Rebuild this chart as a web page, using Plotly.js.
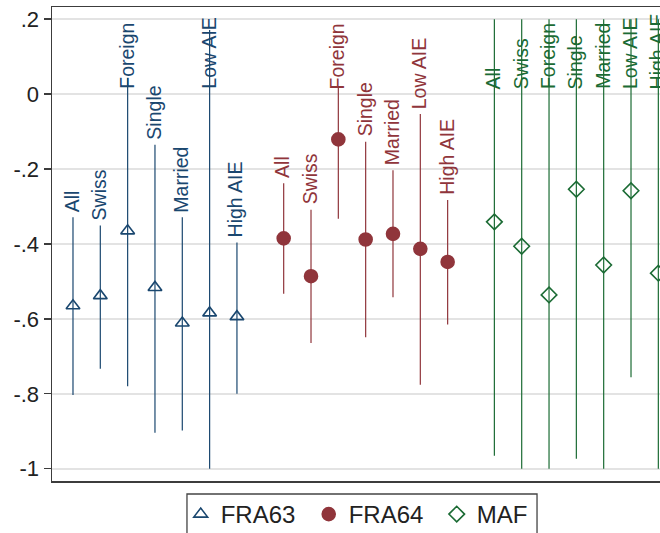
<!DOCTYPE html>
<html>
<head>
<meta charset="utf-8">
<script src="https://cdn.plot.ly/plotly-3.0.1.min.js"></script>
<style>
html, body { margin: 0; padding: 0; background: #ffffff; overflow: hidden; }
#chart { width: 700px; height: 533px; }
</style>
</head>
<body>
<div id="chart"></div>
<script>
// ---- data ----
var categories = ['All', 'Swiss', 'Foreign', 'Single', 'Married', 'Low AIE', 'High AIE'];
var seriesNames = ['FRA63', 'FRA64', 'MAF'];

var fra63Est = [-0.565, -0.538, -0.365, -0.516, -0.611, -0.584, -0.594];
var fra63Lo  = [-0.803, -0.733, -0.780, -0.904, -0.898, -1.000, -0.800];
var fra63Hi  = [-0.329, -0.351,  0.043, -0.135, -0.329,  0.171, -0.396];

var fra64Est = [-0.385, -0.486, -0.121, -0.388, -0.373, -0.413, -0.448];
var fra64Lo  = [-0.533, -0.664, -0.333, -0.649, -0.542, -0.776, -0.615];
var fra64Hi  = [-0.238, -0.309,  0.016, -0.127, -0.203, -0.053, -0.283];

var mafEst = [-0.341, -0.406, -0.536, -0.254, -0.456, -0.258, -0.478];
var mafLo  = [-0.965, -1.000, -1.000, -0.973, -1.000, -0.756, -1.000];
var mafHi  = [ 0.200,  0.200,  0.200,  0.200,  0.200,  0.200,  0.200];

var yTickVals = [0.2, 0, -0.2, -0.4, -0.6, -0.8, -1];
var yTickText = ['.2', '0', '-.2', '-.4', '-.6', '-.8', '-1'];

// ---- styling ----
var FONT = '"Liberation Sans", Arial, Helvetica, sans-serif';
var colors = ['#1a476f', '#90353b', '#1b6b34'];
var symbols = ['triangle-up-open', 'circle', 'diamond-open'];
var sizes = [12, 13, 12];
var groupOffset = [0, 7.71, 15.42];

var est = [fra63Est, fra64Est, mafEst];
var lo = [fra63Lo, fra64Lo, mafLo];
var hi = [fra63Hi, fra64Hi, mafHi];

var traces = [];
var annotations = [];
for (var g = 0; g < 3; g++) {
  var xs = categories.map(function (c, k) { return groupOffset[g] + k; });
  traces.push({
    type: 'scatter',
    mode: 'markers',
    name: seriesNames[g],
    x: xs,
    y: est[g],
    text: categories,
    marker: {
      symbol: symbols[g],
      size: sizes[g],
      color: colors[g],
      line: { color: colors[g], width: 1.6 }
    },
    error_y: {
      type: 'data',
      symmetric: false,
      array: est[g].map(function (v, i) { return hi[g][i] - v; }),
      arrayminus: est[g].map(function (v, i) { return v - lo[g][i]; }),
      width: 0,
      thickness: 1.2,
      color: colors[g]
    },
    cliponaxis: true
  });
  categories.forEach(function (c, k) {
    annotations.push({
      x: xs[k],
      y: Math.min(hi[g][k], 0),
      xref: 'x', yref: 'y',
      text: c,
      showarrow: false,
      textangle: -90,
      xanchor: 'center',
      yanchor: 'bottom',
      xshift: -1,
      yshift: 3,
      font: { family: FONT, size: 19.5, color: colors[g] }
    });
  });
}

var layout = {
  width: 700,
  height: 533,
  margin: { l: 52, r: 28, t: 7, b: 52, autoexpand: false },
  paper_bgcolor: '#ffffff',
  plot_bgcolor: '#ffffff',
  showlegend: true,
  font: { family: FONT, color: '#222222' },
  xaxis: {
    range: [-0.768, 21.92],
    showgrid: false,
    zeroline: false,
    showticklabels: false,
    ticks: '',
    showline: true,
    mirror: true,
    linecolor: '#3c3c3c',
    linewidth: 1.5
  },
  yaxis: {
    range: [-1.0326, 0.2324],
    tickmode: 'array',
    tickvals: yTickVals,
    ticktext: yTickText,
    ticks: 'outside',
    ticklen: 7,
    tickwidth: 1.3,
    tickcolor: '#3c3c3c',
    tickfont: { family: FONT, size: 22, color: '#222222' },
    showgrid: true,
    gridcolor: '#e3e3e3',
    gridwidth: 1.5,
    zeroline: false,
    showline: true,
    mirror: true,
    linecolor: '#3c3c3c',
    linewidth: 1.5
  },
  legend: {
    orientation: 'h',
    x: 0.2076,
    xanchor: 'left',
    y: -0.0232,
    yanchor: 'top',
    bgcolor: 'rgba(0,0,0,0)',
    borderwidth: 0,
    entrywidth: 83,
    font: { family: FONT, size: 24, color: '#222222' },
    itemclick: false
  },
  shapes: [{
    type: 'rect',
    xref: 'paper', yref: 'paper',
    x0: 0.2177, x1: 0.7823,
    y0: -0.0274, y1: -0.13,
    line: { color: '#444444', width: 1.3 },
    fillcolor: 'rgba(0,0,0,0)',
    layer: 'below'
  }],
  annotations: annotations
};

Plotly.newPlot('chart', traces, layout, { staticPlot: true, displayModeBar: false });
</script>
</body>
</html>
